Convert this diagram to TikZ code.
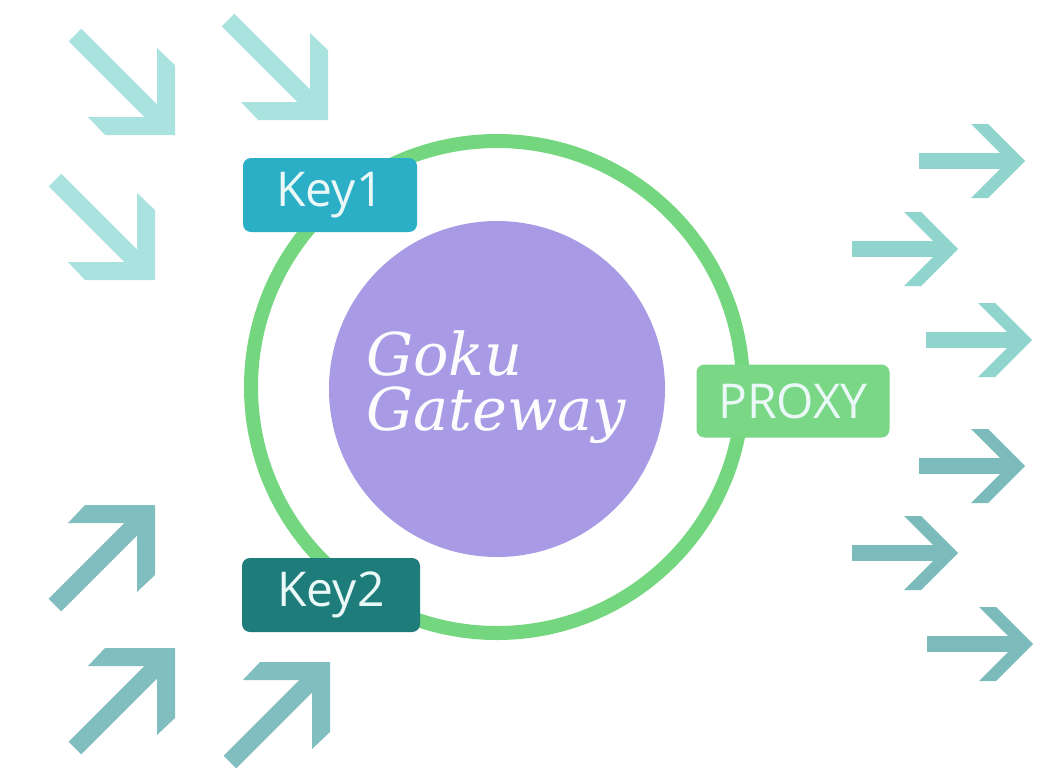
\documentclass[tikz,border=0pt]{standalone}
\usepackage{fontspec}
\setmainfont{Open Sans}
\newfontfamily\gokufont{DejaVu Serif}
\definecolor{ringc}{HTML}{74D67F}
\definecolor{corec}{HTML}{A89AE4}
\definecolor{keyonec}{HTML}{2BAFC6}
\definecolor{keytwoc}{HTML}{1E7C7B}
\definecolor{proxyc}{HTML}{7AD786}
\definecolor{arrA}{HTML}{A9E2DF}
\definecolor{arrB}{HTML}{80BEBF}
\definecolor{arrR}{HTML}{8FD4CD}
\definecolor{arrS}{HTML}{7CBBBC}
\definecolor{labtext}{HTML}{EAF8F8}
\tikzset{
  darr/.pic={
    \fill (0,0) -- (0,-70) -- (-18,-87) -- (-18,-18) -- (-87,-18) -- (-70,0) -- cycle;
    \draw[line width=18pt] (-100,-100) -- (-13,-13);
  },
  rarr/.pic={
    \fill (0,0) -- (-37,-37) -- (-54,-37) -- (-17,0) -- (-54,37) -- (-37,37) -- cycle;
    \draw[line width=16pt] (-106,0) -- (-15,0);
  },
  labelbox/.style={rounded corners=8pt, inner sep=0pt, text=labtext,
    font=\fontsize{48}{58}\selectfont, minimum height=74pt},
  gokutext/.style={text=white!97!corec, inner sep=0pt,
    font=\gokufont\itshape\fontsize{59}{66}\selectfont, anchor=base west}
}
\begin{document}
\begin{tikzpicture}[x=1pt,y=-1pt]
\useasboundingbox (0,0) rectangle (1060,772);
\fill[white] (0,0) rectangle (1060,772);

% incoming arrows (top-left, pointing down-right)
\pic[color=arrA] at (175,135) {darr};
\pic[color=arrA] at (328,120) {darr};
\pic[color=arrA] at (155,280) {darr};

% incoming arrows (bottom-left, pointing up-right)
\pic[color=arrB, yscale=-1] at (155,505) {darr};
\pic[color=arrB, yscale=-1] at (175,648) {darr};
\pic[color=arrB, yscale=-1] at (330,662) {darr};

% outgoing arrows (right)
\pic[color=arrR] at (1025,161) {rarr};
\pic[color=arrR] at (958,249) {rarr};
\pic[color=arrR] at (1032,340) {rarr};
\pic[color=arrS] at (1025,466) {rarr};
\pic[color=arrS] at (958,553) {rarr};
\pic[color=arrS] at (1033,644) {rarr};

% ring and core
\node[circle, draw=ringc, line width=14pt, minimum size=492pt, inner sep=0pt] (ring) at (497,387) {};
\node[circle, fill=corec, minimum size=336pt, inner sep=0pt] (core) at (497,389) {};
\node[gokutext] (goku) at (366,375) {Goku};
\node[gokutext] (gateway) at (366,430) {Gateway};

% labels
\node[labelbox, fill=keyonec, minimum width=174pt] (key1) at (330,195) {Key1};
\node[labelbox, fill=keytwoc, minimum width=178pt] (key2) at (331,595) {Key2};
\node[labelbox, fill=proxyc, minimum width=193pt, minimum height=73pt] (proxy) at (793,401) {PROXY};
\end{tikzpicture}
\end{document}
